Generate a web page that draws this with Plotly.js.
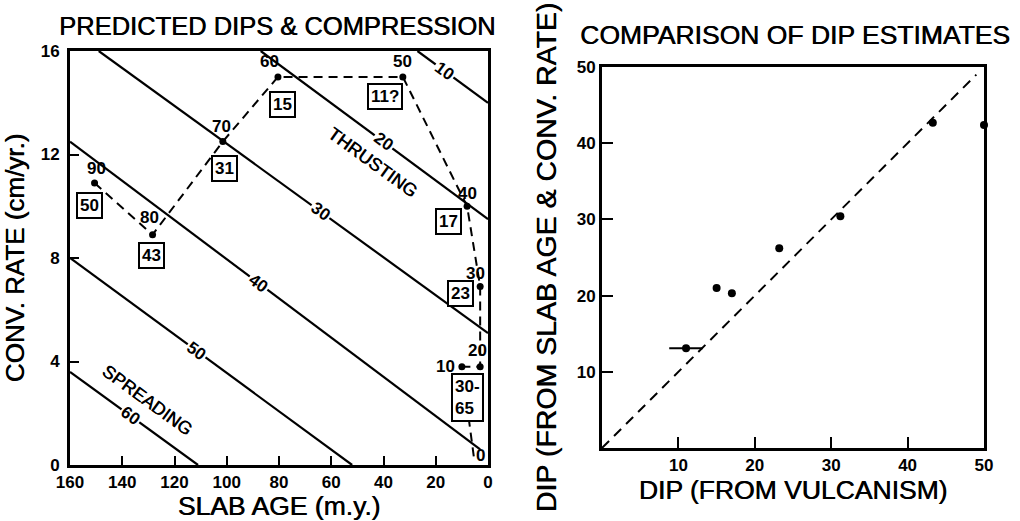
<!DOCTYPE html>
<html><head><meta charset="utf-8">
<script src="https://cdn.plot.ly/plotly-3.0.1.min.js"></script>
<style>html,body{margin:0;padding:0;background:#fff;}</style>
</head><body><div id="chart" style="width:1020px;height:521px;"></div>
<script>
// ---------- Left panel: predicted dips & compression ----------
const ageTicks = [160, 140, 120, 100, 80, 60, 40, 20, 0];
const rateTicks = [0, 4, 8, 12, 16];

// contour lines of predicted dip (degrees): end points
const contourDips = ['10', '20', '30', '40', '50', '60'];
const contourAgeStart = [27, 87, 149, 160, 160, 160];
const contourRateStart = [16, 16, 16, 12.5, 8.0, 3.6];
const contourAgeEnd = [0, 0, 0, 3, 52, 111];
const contourRateEnd = [14.0, 9.5, 5.1, 0.6, 0, 0];

// subduction path points
const pathLabels = ['90', '80', '70', '60', '50', '40', '30', '20', '10', '0'];
const pathAge = [150.6, 128.4, 101.5, 80.4, 32.6, 8, 3, 3, 10, 5.4];
const pathRate = [10.9, 8.9, 12.5, 15.0, 15.0, 10.0, 6.9, 3.8, 3.8, 0.3];

// observed dips (boxed) and the path point each belongs to
const observedDips = ['50', '43', '31', '15', '11?', '17', '23', '30-<br>65'];
const observedPoint = [0, 1, 2, 3, 4, 5, 6, 8];

// ---------- Right panel: comparison of dip estimates ----------
const dipTicks = [10, 20, 30, 40, 50];
const vulcanismDip = [50, 43.3, 31.2, 23.2, 15.0, 17.0, 11.0];
const predictedDip = [42.4, 42.7, 30.4, 26.2, 21.0, 20.3, 13.1];
const vulcanismErr = [0, 0, 0, 0, 0, 0, 2.2];
const oneToOne = [0, 49];

// ---------- styling (not data) ----------
const FONT = 'Liberation Sans, Arial, Helvetica, sans-serif';
const fb = (size) => ({family: FONT, size: size, color: '#000', weight: 'bold'});
const fm = (size) => ({family: FONT, size: size, color: '#000', shadow: '0.6px 0 0 #000'});
const contourLabelAt = [0.39, 0.54, 0.57, 0.46, 0.45, 0.47];
const pathLabelShift = [[2, 14], [-3, 17], [-1, 15], [-8, 15], [0, 15], [0, 13], [-5, 13], [-3, 16], [-16, 0], [7, 2]];
const boxShift = [[-5, -23], [-1, -21], [2, -27], [5, -28], [-18, -20], [-19, -15], [-20, -7], [6, -31]];
const ANGLE = 36;

const traces = [];
const annotations = [];

// contour lines
contourDips.forEach((d, i) => {
  traces.push({
    type: 'scatter', mode: 'lines', xaxis: 'x', yaxis: 'y',
    x: [contourAgeStart[i], contourAgeEnd[i]],
    y: [contourRateStart[i], contourRateEnd[i]],
    line: {color: '#000', width: 2.2}, hoverinfo: 'skip', showlegend: false
  });
  const t = contourLabelAt[i];
  annotations.push({
    xref: 'x', yref: 'y',
    x: contourAgeStart[i] + t * (contourAgeEnd[i] - contourAgeStart[i]),
    y: contourRateStart[i] + t * (contourRateEnd[i] - contourRateStart[i]),
    text: d, showarrow: false, textangle: ANGLE,
    bgcolor: '#fff', borderpad: 1,
    font: fb(17)
  });
});

// dashed path
traces.push({
  type: 'scatter', mode: 'lines', xaxis: 'x', yaxis: 'y',
  x: pathAge, y: pathRate,
  line: {color: '#000', width: 2, dash: '9px,6px'},
  hoverinfo: 'skip', showlegend: false
});
traces.push({
  type: 'scatter', mode: 'markers', xaxis: 'x', yaxis: 'y',
  x: pathAge.slice(0, 9), y: pathRate.slice(0, 9),
  marker: {color: '#000', size: 7}, cliponaxis: false,
  hoverinfo: 'skip', showlegend: false
});
pathLabels.forEach((lab, i) => {
  annotations.push({
    xref: 'x', yref: 'y', x: pathAge[i], y: pathRate[i],
    text: lab, showarrow: false,
    xshift: pathLabelShift[i][0], yshift: pathLabelShift[i][1],
    font: fb(17)
  });
});
observedDips.forEach((lab, i) => {
  const p = observedPoint[i];
  annotations.push({
    xref: 'x', yref: 'y', x: pathAge[p], y: pathRate[p],
    text: lab, showarrow: false,
    xshift: boxShift[i][0], yshift: boxShift[i][1],
    bgcolor: '#fff', bordercolor: '#000', borderwidth: 2, borderpad: 2,
    align: 'left',
    font: fb(17)
  });
});

// region labels
annotations.push({
  xref: 'x', yref: 'y', x: 44.4, y: 11.7, text: 'THRUSTING', showarrow: false,
  textangle: ANGLE, font: fm(18)
});
annotations.push({
  xref: 'x', yref: 'y', x: 130.6, y: 2.5, text: 'SPREADING', showarrow: false,
  textangle: ANGLE, font: fm(18)
});

// right panel traces
traces.push({
  type: 'scatter', mode: 'lines', xaxis: 'x2', yaxis: 'y2',
  x: oneToOne, y: oneToOne,
  line: {color: '#000', width: 2, dash: '10px,7px'},
  hoverinfo: 'skip', showlegend: false
});
traces.push({
  type: 'scatter', mode: 'markers', xaxis: 'x2', yaxis: 'y2',
  x: vulcanismDip, y: predictedDip,
  error_x: {type: 'data', array: vulcanismErr, visible: true, color: '#000', thickness: 2, width: 0},
  marker: {color: '#000', size: 8}, cliponaxis: false,
  hoverinfo: 'skip', showlegend: false
});

// panel titles
annotations.push({
  xref: 'paper', yref: 'paper', x: 277 / 1020, y: 1 - 26 / 521,
  xanchor: 'center', yanchor: 'middle', showarrow: false,
  text: 'PREDICTED DIPS &amp; COMPRESSION', font: fm(25.5)
});
annotations.push({
  xref: 'paper', yref: 'paper', x: 795 / 1020, y: 1 - 35 / 521,
  xanchor: 'center', yanchor: 'middle', showarrow: false,
  text: 'COMPARISON OF DIP ESTIMATES', font: fm(26.5)
});

const axisBase = {
  showline: true, mirror: true, linewidth: 3, linecolor: '#000',
  ticks: 'inside', ticklen: 9, tickwidth: 2, tickcolor: '#000',
  showgrid: false, zeroline: false, automargin: false, fixedrange: true,
  tickfont: fb(17)
};

const layout = {
  width: 1020, height: 521, autosize: false,
  margin: {l: 0, r: 0, t: 0, b: 0},
  paper_bgcolor: '#fff', plot_bgcolor: '#fff',
  showlegend: false,
  xaxis: Object.assign({}, axisBase, {
    domain: [70 / 1020, 488 / 1020], range: [160, 0], anchor: 'y',
    tickvals: ageTicks, ticktext: ageTicks.map(String),
    title: {text: 'SLAB AGE (m.y.)', font: fm(26.5), standoff: 6}
  }),
  yaxis: Object.assign({}, axisBase, {
    domain: [1 - 465 / 521, 1 - 51 / 521], range: [0, 16], anchor: 'x',
    tickvals: rateTicks, ticktext: rateTicks.map(String), ticklabelstandoff: 4,
    title: {text: 'CONV. RATE (cm/yr.)', font: fm(26), standoff: 10}
  }),
  xaxis2: Object.assign({}, axisBase, {
    domain: [602 / 1020, 984 / 1020], range: [0, 50], anchor: 'y2',
    tickvals: dipTicks, ticktext: dipTicks.map(String), ticklen: 11,
    title: {text: 'DIP (FROM VULCANISM)', font: fm(26.5), standoff: 6}
  }),
  yaxis2: Object.assign({}, axisBase, {
    domain: [1 - 448 / 521, 1 - 67 / 521], range: [0, 50], anchor: 'x2',
    tickvals: dipTicks, ticktext: dipTicks.map(String), ticklen: 11,
    title: {text: 'DIP (FROM SLAB AGE &amp; CONV. RATE)', font: fm(28.5), standoff: 12}
  }),
  annotations: annotations
};

Plotly.newPlot('chart', traces, layout, {displayModeBar: false, staticPlot: true});
</script>
</body></html>
